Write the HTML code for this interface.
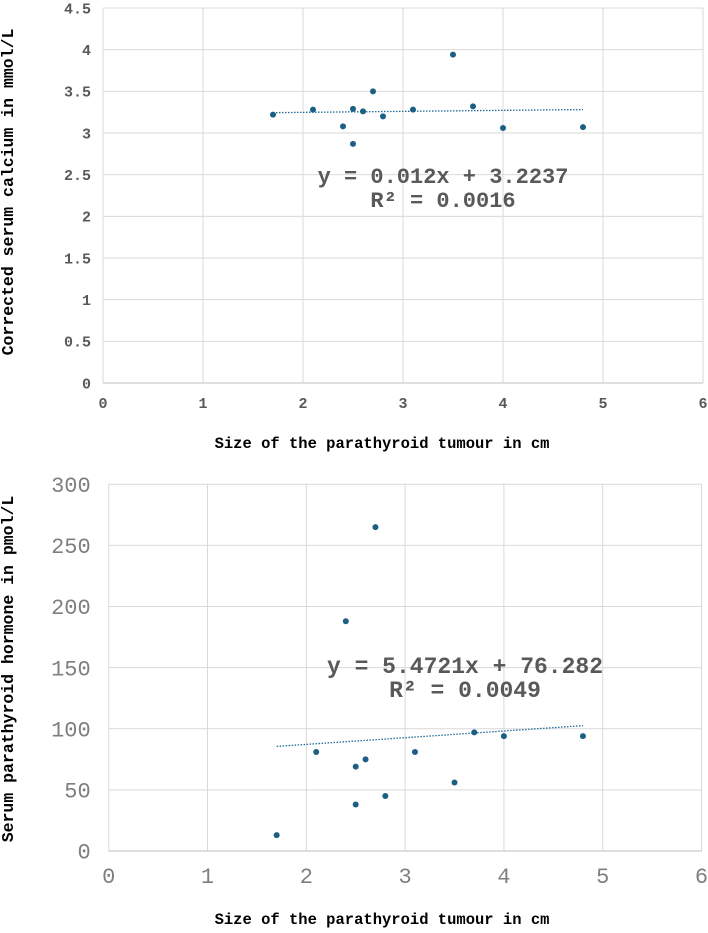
<!DOCTYPE html>
<html><head><meta charset="utf-8"><style>
body{margin:0;background:#fff}
svg text{font-family:"Liberation Mono",monospace}
</style></head><body>
<svg width="708" height="928" id="svg"></svg>
<script>
const xs1=[1.7,2.1,2.4,2.5,2.5,2.6,2.7,2.8,3.1,3.5,3.7,4.0,4.8];
const ys1=[3.22,3.28,3.08,3.29,2.87,3.26,3.5,3.2,3.28,3.94,3.32,3.06,3.07];
const xs2=[1.7,2.1,2.4,2.5,2.5,2.6,2.7,2.8,3.1,3.5,3.7,4.0,4.8];
const ys2=[13,81,188,69,38,75,265,45,81,56,97,94,94];
const xTicks=["0","1","2","3","4","5","6"];
const yTicks1=["0","0.5","1","1.5","2","2.5","3","3.5","4","4.5"];
const yTicks2=["0","50","100","150","200","250","300"];
const fit1=[0.012,3.2237];
const fit2=[5.4721,76.282];
const svg=document.getElementById('svg');
const NS='http://www.w3.org/2000/svg';
function mk(t,a,txt){const e=document.createElementNS(NS,t);for(const k in a)e.setAttribute(k,a[k]);if(txt!==undefined)e.textContent=txt;svg.appendChild(e);return e;}
function chart(c){
  const X=v=>c.x0+(v-c.xmin)/(c.xmax-c.xmin)*(c.x1-c.x0);
  const Y=v=>c.y0-(v-c.ymin)/(c.ymax-c.ymin)*(c.y0-c.y1);
  c.xt.forEach(t=>{const v=+t;
    const g=mk('line',{x1:X(v),x2:X(v),y1:c.y1,y2:c.y0,stroke:'#d9d9d9','stroke-width':1});
    
    const l=mk('text',{x:X(v),y:c.y0+c.xlOff,'text-anchor':'middle','font-size':c.tfs,fill:c.tc,'font-weight':c.tw},t);
    });
  c.yt.forEach(t=>{const v=+t;
    const g=mk('line',{x1:c.x0,x2:c.x1,y1:Y(v),y2:Y(v),stroke:v===0?'#bfbfbf':'#d9d9d9','stroke-width':1});
    
    const l=mk('text',{x:c.x0-c.ylOff,y:Y(v)+c.tfs*0.35,'text-anchor':'end','font-size':c.tfs,fill:c.tc,'font-weight':c.tw},t);
    });
  const xa=Math.min(...c.xs),xb=Math.max(...c.xs);
  const tl=mk('line',{x1:X(xa),y1:Y(c.fit[0]*xa+c.fit[1]),x2:X(xb),y2:Y(c.fit[0]*xb+c.fit[1]),stroke:'#1f6a9a','stroke-width':1.3,'stroke-dasharray':'1.5 1.5'});
  
  c.xs.forEach((x,i)=>{const p=mk('circle',{cx:X(x),cy:Y(c.ys[i]),r:3,fill:'#1b5f84'});
    });
  const e1=mk('text',{x:c.ex,y:c.ey,'text-anchor':'middle','font-size':c.efs,'font-weight':'bold',fill:'#595959'},'y = '+c.fit[0]+'x + '+c.fit[1]);
  
  const e2=mk('text',{x:c.ex,y:c.ey+24,'text-anchor':'middle','font-size':c.efs,'font-weight':'bold',fill:'#595959'},'R² = '+c.r2);
  
  const xt=mk('text',{x:382,y:c.xTitleY,'text-anchor':'middle','font-size':15.5,'font-weight':'bold',fill:'#000'},c.xTitle);
  
  const cy=c.yTitleC;
  const yt=mk('text',{x:13,y:cy,'text-anchor':'middle','font-size':16.5,'font-weight':'bold',fill:'#000',transform:`rotate(-90 13 ${cy})`},c.yTitle);
  
}
chart({xs:xs1,ys:ys1,fit:fit1,r2:'0.0016',xt:xTicks,yt:yTicks1,xmin:0,xmax:6,ymin:0,ymax:4.5,
 x0:103,x1:703,y0:383,y1:8,tfs:15,tw:'bold',tc:'#595959',xlOff:25,ylOff:12,efs:22,
 ex:443,ey:183,xTitleY:448,yTitleC:192,xTitle:'Size of the parathyroid tumour in cm',yTitle:'Corrected serum calcium in mmol/L'});
chart({xs:xs2,ys:ys2,fit:fit2,r2:'0.0049',xt:xTicks,yt:yTicks2,xmin:0,xmax:6,ymin:0,ymax:300,
 x0:108.7,x1:701.5,y0:851,y1:484.3,tfs:22,tw:'normal',tc:'#7f7f7f',xlOff:32,ylOff:18,efs:23,
 ex:465,ey:673,xTitleY:924,yTitleC:669,xTitle:'Size of the parathyroid tumour in cm',yTitle:'Serum parathyroid hormone in pmol/L'});
</script>
</body></html>
